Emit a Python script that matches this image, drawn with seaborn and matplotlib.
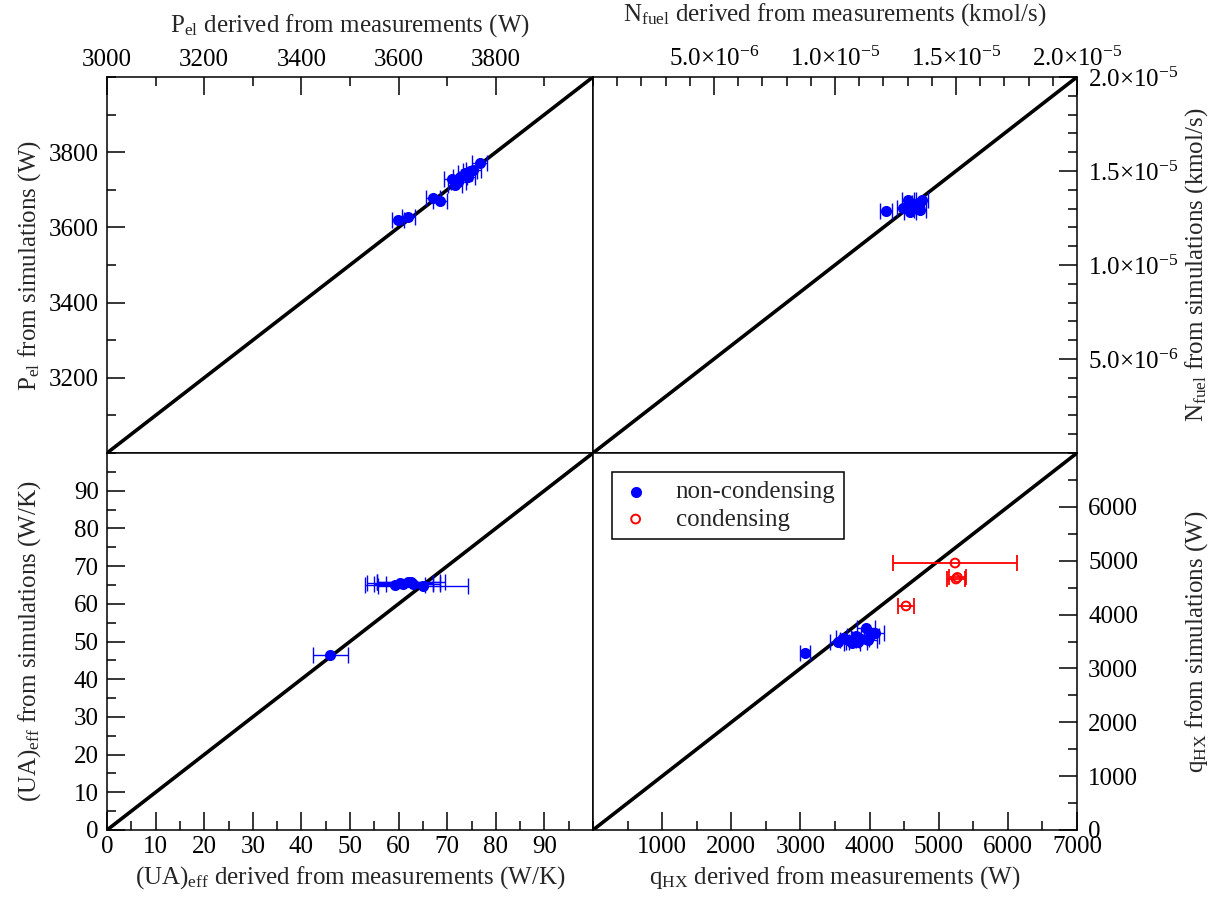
import matplotlib
matplotlib.use("Agg")
import matplotlib.pyplot as plt
import seaborn as sns
from matplotlib.ticker import FixedLocator, MultipleLocator

# ---------------- data ----------------
# P_el (W): measured vs simulated
pel_meas = [3599, 3620, 3671, 3685, 3709, 3716, 3723, 3726, 3737, 3743, 3747, 3754, 3767]
pel_sim = [3620, 3628, 3677, 3670, 3730, 3713, 3722, 3735, 3744, 3735, 3749, 3753, 3770]
pel_xerr = [13, 14, 14, 14, 15, 15, 15, 15, 15, 15, 15, 15, 15]

# N_fuel (kmol/s)
nf_meas = [1.211e-5, 1.282e-5, 1.303e-5, 1.310e-5, 1.324e-5, 1.344e-5, 1.351e-5, 1.358e-5]
nf_sim = [1.287e-5, 1.302e-5, 1.346e-5, 1.284e-5, 1.319e-5, 1.328e-5, 1.293e-5, 1.346e-5]
nf_xerr = [2.5e-7, 2.5e-7, 2.5e-7, 2.5e-7, 2.5e-7, 2.5e-7, 2.5e-7, 2.5e-7]

# (UA)_eff (W/K)
ua_meas = [45.9, 59.3, 60.3, 61.0, 62.0, 62.6, 63.0, 65.0]
ua_sim = [46.4, 65.0, 65.5, 65.2, 65.8, 65.8, 65.3, 64.6]
ua_xerr = [3.6, 6.2, 6.8, 6.0, 6.5, 7.0, 5.5, 9.3]

# q_HX (W), non-condensing
q_meas = [3066, 3543, 3620, 3690, 3745, 3800, 3832, 3870, 3948, 3977, 4000, 4079]
q_sim = [3286, 3490, 3560, 3528, 3472, 3600, 3490, 3540, 3750, 3528, 3600, 3658]
q_xerr = [72, 110, 110, 115, 120, 120, 125, 125, 130, 130, 130, 135]

# q_HX (W), condensing
qc_meas = [5236, 5250, 5270, 4527]
qc_sim = [4957, 4660, 4690, 4160]
qc_xerr = [900, 130, 120, 115]

# axis ranges / ticks / labels
pel_lim = [3000, 4000]
nf_lim = [0.0, 2.0e-5]
ua_lim = [0, 100]
q_lim = [0, 7000]

pel_xticks = [3000, 3200, 3400, 3600, 3800]
pel_xlabels = ["3000", "3200", "3400", "3600", "3800"]
pel_yticks = [3200, 3400, 3600, 3800]
pel_ylabels = ["3200", "3400", "3600", "3800"]

nf_ticks = [5.0e-6, 1.0e-5, 1.5e-5, 2.0e-5]
nf_labels = ["5.0×10$^{-6}$", "1.0×10$^{-5}$", "1.5×10$^{-5}$", "2.0×10$^{-5}$"]

ua_ticks = [0, 10, 20, 30, 40, 50, 60, 70, 80, 90]
ua_labels = ["0", "10", "20", "30", "40", "50", "60", "70", "80", "90"]

q_xticks = [1000, 2000, 3000, 4000, 5000, 6000, 7000]
q_xlabels = ["1000", "2000", "3000", "4000", "5000", "6000", "7000"]
q_yticks = [0, 1000, 2000, 3000, 4000, 5000, 6000]
q_ylabels = ["0", "1000", "2000", "3000", "4000", "5000", "6000"]

legend_labels = ["non-condensing", "condensing"]

# ---------------- style ----------------
sns.set_theme(style="white")
plt.rcParams["font.family"] = ["Liberation Serif", "DejaVu Serif"]
plt.rcParams["mathtext.fontset"] = "custom"
plt.rcParams["mathtext.rm"] = "Liberation Serif"
plt.rcParams["mathtext.it"] = "Liberation Serif:italic"
plt.rcParams["mathtext.bf"] = "Liberation Serif:bold"

W, H = 1220, 899
fig = plt.figure(figsize=(W / 100, H / 100), dpi=100)


def fx(px):
    return px / W


def fy(py):
    return 1 - py / H


L, M, R = 107, 593, 1077
T, C, B = 77, 453, 830

ax_tl = fig.add_axes([fx(L), fy(C), fx(M) - fx(L), fy(T) - fy(C)])
ax_tr = fig.add_axes([fx(M), fy(C), fx(R) - fx(M), fy(T) - fy(C)])
ax_bl = fig.add_axes([fx(L), fy(B), fx(M) - fx(L), fy(C) - fy(B)])
ax_br = fig.add_axes([fx(M), fy(B), fx(R) - fx(M), fy(C) - fy(B)])

FS = 18


def style(ax, xside, yside, xpad, ypad):
    ax.set_facecolor("white")
    ax.grid(False)
    for s in ax.spines.values():
        s.set_visible(True)
        s.set_color("black")
        s.set_linewidth(1.1)
    ax.tick_params(which="both", direction="in", colors="black", width=1.1,
                   labelsize=FS,
                   top=(xside == "top"), bottom=(xside == "bottom"),
                   left=(yside == "left"), right=(yside == "right"),
                   labeltop=(xside == "top"), labelbottom=(xside == "bottom"),
                   labelleft=(yside == "left"), labelright=(yside == "right"))
    ax.tick_params(which="major", length=13)
    ax.tick_params(which="minor", length=6.5)
    ax.tick_params(axis="x", which="major", pad=xpad)
    ax.tick_params(axis="y", which="major", pad=ypad)
    ax.set_xlabel("")
    ax.set_ylabel("")


def diag(ax, lim):
    sns.lineplot(x=lim, y=lim, ax=ax, color="black", linewidth=2.6, zorder=2)


def points(ax, x, y, xerr):
    ax.errorbar(x, y, xerr=xerr, fmt="none", ecolor="blue", elinewidth=1.0,
                capsize=6, capthick=1.0, zorder=3)
    return sns.scatterplot(x=x, y=y, ax=ax, color="blue", s=64, linewidth=0,
                           marker="o", zorder=4)


# ---- top-left: P_el ----
diag(ax_tl, pel_lim)
points(ax_tl, pel_meas, pel_sim, pel_xerr)
ax_tl.set_xlim(pel_lim)
ax_tl.set_ylim(pel_lim)
ax_tl.xaxis.set_major_locator(FixedLocator(pel_xticks))
ax_tl.set_xticklabels(pel_xlabels)
ax_tl.yaxis.set_major_locator(FixedLocator(pel_yticks))
ax_tl.set_yticklabels(pel_ylabels)
ax_tl.xaxis.set_minor_locator(MultipleLocator(100))
ax_tl.yaxis.set_minor_locator(MultipleLocator(100))
style(ax_tl, "top", "left", 4, 6)

# ---- top-right: N_fuel ----
diag(ax_tr, nf_lim)
points(ax_tr, nf_meas, nf_sim, nf_xerr)
ax_tr.set_xlim(nf_lim)
ax_tr.set_ylim(nf_lim)
ax_tr.xaxis.set_major_locator(FixedLocator(nf_ticks))
ax_tr.set_xticklabels(nf_labels)
ax_tr.yaxis.set_major_locator(FixedLocator(nf_ticks))
ax_tr.set_yticklabels(nf_labels)
ax_tr.xaxis.set_minor_locator(MultipleLocator(1e-6))
ax_tr.yaxis.set_minor_locator(MultipleLocator(1e-6))
style(ax_tr, "top", "right", 4, 8)

# ---- bottom-left: (UA)_eff ----
diag(ax_bl, ua_lim)
points(ax_bl, ua_meas, ua_sim, ua_xerr)
ax_bl.set_xlim(ua_lim)
ax_bl.set_ylim(ua_lim)
ax_bl.xaxis.set_major_locator(FixedLocator(ua_ticks))
ax_bl.set_xticklabels(ua_labels)
ax_bl.yaxis.set_major_locator(FixedLocator(ua_ticks))
ax_bl.set_yticklabels(ua_labels)
ax_bl.xaxis.set_minor_locator(MultipleLocator(5))
ax_bl.yaxis.set_minor_locator(MultipleLocator(5))
style(ax_bl, "bottom", "left", 4, 6)

# ---- bottom-right: q_HX ----
diag(ax_br, q_lim)
h_nc = points(ax_br, q_meas, q_sim, q_xerr)
ax_br.errorbar(qc_meas, qc_sim, xerr=qc_xerr, fmt="none", ecolor="red",
               elinewidth=1.3, capsize=6, capthick=1.3, zorder=3)
sns.scatterplot(x=qc_meas, y=qc_sim, ax=ax_br, marker="o", s=40,
                facecolors="none", edgecolor="red", linewidth=1.4, zorder=4)
coll_nc = ax_br.collections[-3] if False else None
ax_br.set_xlim(q_lim)
ax_br.set_ylim(q_lim)
ax_br.xaxis.set_major_locator(FixedLocator(q_xticks))
ax_br.set_xticklabels(q_xlabels)
ax_br.yaxis.set_major_locator(FixedLocator(q_yticks))
ax_br.set_yticklabels(q_ylabels)
ax_br.xaxis.set_minor_locator(MultipleLocator(500))
ax_br.yaxis.set_minor_locator(MultipleLocator(500))
style(ax_br, "bottom", "right", 4, 8)

# fix scatter colours & build legend
from matplotlib.collections import PathCollection
scat = [c for c in ax_br.collections if isinstance(c, PathCollection)]
scat[0].set_facecolor("blue")
scat[0].set_edgecolor("blue")
scat[1].set_facecolor("none")
scat[1].set_edgecolor("red")
leg = ax_br.legend(scat[:2], legend_labels, loc="upper left",
                   bbox_to_anchor=(0.039, 0.95), fontsize=FS,
                   frameon=True, fancybox=False, shadow=False,
                   borderpad=0.35, labelspacing=0.2, handlelength=1.2,
                   handletextpad=1.0, borderaxespad=0.0, scatterpoints=1)
leg.get_frame().set_edgecolor("black")
leg.get_frame().set_linewidth(1.1)
leg.get_frame().set_facecolor("white")
leg.get_frame().set_alpha(1)

# ---------------- axis titles ----------------
LS = 18
fig.text(fx((L + M) / 2), fy(32), r"P$_{\mathrm{el}}$ derived from measurements (W)",
         ha="center", va="baseline", fontsize=LS)
fig.text(fx((M + R) / 2), fy(21), r"N$_{\mathrm{fuel}}$ derived from measurements (kmol/s)",
         ha="center", va="baseline", fontsize=LS)
fig.text(fx((L + M) / 2), fy(884), r"(UA)$_{\mathrm{eff}}$ derived from measurements (W/K)",
         ha="center", va="baseline", fontsize=LS)
fig.text(fx((M + R) / 2), fy(884), r"q$_{\mathrm{HX}}$ derived from measurements (W)",
         ha="center", va="baseline", fontsize=LS)

fig.text(fx(36), fy((T + C) / 2), r"P$_{\mathrm{el}}$ from simulations (W)",
         ha="center", va="baseline", rotation=90, rotation_mode="anchor", fontsize=LS)
fig.text(fx(36), fy((C + B) / 2), r"(UA)$_{\mathrm{eff}}$ from simulations (W/K)",
         ha="center", va="baseline", rotation=90, rotation_mode="anchor", fontsize=LS)
fig.text(fx(1203), fy((T + C) / 2), r"N$_{\mathrm{fuel}}$ from simulations (kmol/s)",
         ha="center", va="baseline", rotation=90, rotation_mode="anchor", fontsize=LS)
fig.text(fx(1203), fy((C + B) / 2), r"q$_{\mathrm{HX}}$ from simulations (W)",
         ha="center", va="baseline", rotation=90, rotation_mode="anchor", fontsize=LS)

fig.savefig("out.png", dpi=100, facecolor="white")
